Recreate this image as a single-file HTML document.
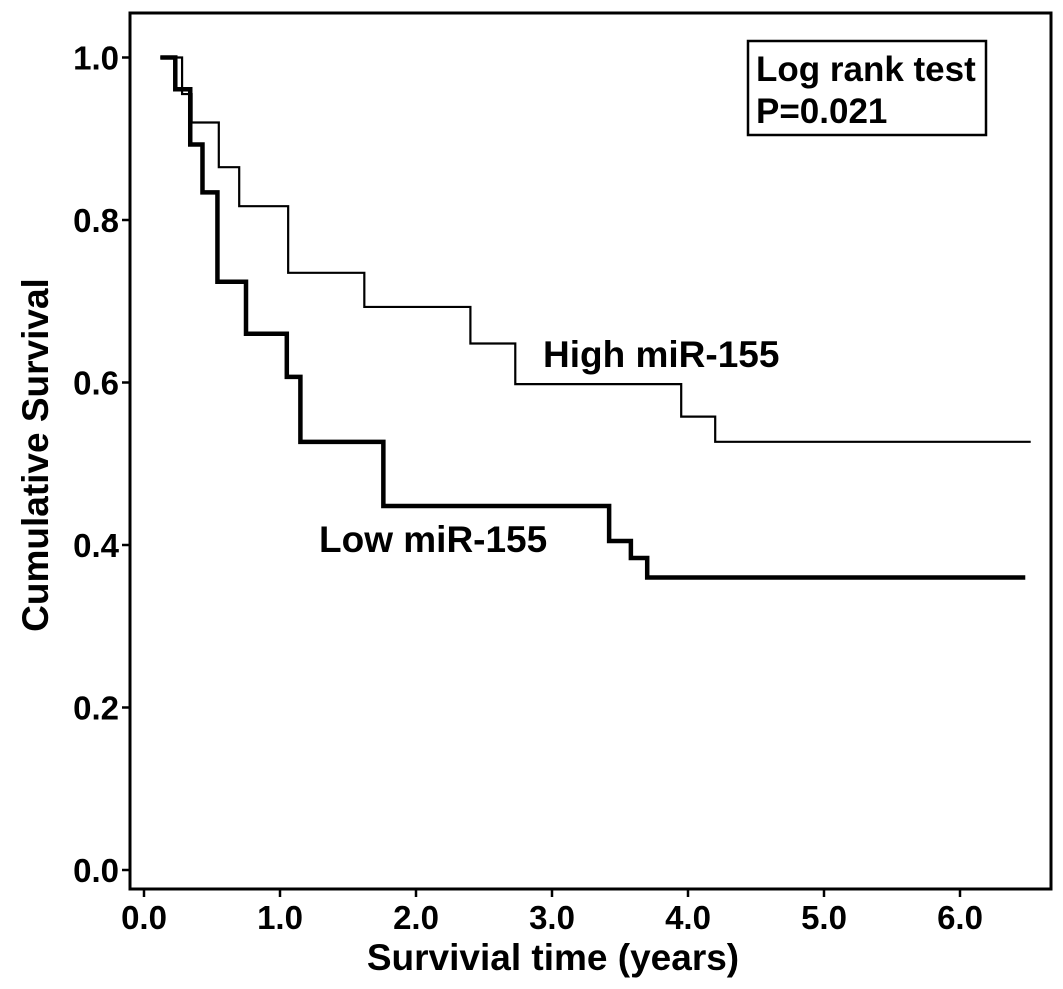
<!DOCTYPE html>
<html><head><meta charset="utf-8"><style>
body{margin:0;background:#fff}
svg text{font-family:"Liberation Sans",Arial,sans-serif;font-weight:bold;fill:#000}
</style></head><body>
<svg id="chart" width="1063" height="984" viewBox="0 0 1063 984" xmlns="http://www.w3.org/2000/svg">
<rect x="130" y="13" width="921" height="876" fill="none" stroke="#000" stroke-width="3"/>
<g id="axes"></g>
<g id="series"></g>
<g>
<rect x="748" y="41" width="238" height="94" fill="#fff" stroke="#000" stroke-width="2.5"/>
<text x="756" y="81" font-size="35">Log rank test</text>
<text x="756" y="123" font-size="35">P=0.021</text>
</g>
<text x="543" y="367" font-size="37">High miR-155</text>
<text x="319" y="552" font-size="37">Low miR-155</text>
<text x="553" y="970" font-size="37" text-anchor="middle">Survivial time (years)</text>
<text transform="translate(48,455) rotate(-90)" font-size="37" text-anchor="middle">Cumulative Survival</text>
</svg>
<script>
const xTicks=[0,1,2,3,4,5,6];
const xTickLabels=["0.0","1.0","2.0","3.0","4.0","5.0","6.0"];
const yTicks=[0,0.2,0.4,0.6,0.8,1.0];
const yTickLabels=["0.0","0.2","0.4","0.6","0.8","1.0"];
const highTimes=[0.12,0.28,0.35,0.55,0.70,1.06,1.62,2.40,2.73,3.95,4.20,6.52];
const highSurv=[1.0,0.955,0.92,0.865,0.817,0.735,0.693,0.648,0.598,0.558,0.527,0.527];
const lowTimes=[0.12,0.23,0.34,0.43,0.54,0.75,1.05,1.15,1.76,3.42,3.58,3.70,6.48];
const lowSurv=[1.0,0.961,0.893,0.834,0.724,0.660,0.607,0.527,0.448,0.405,0.384,0.360,0.360];
const NS="http://www.w3.org/2000/svg";
const sx=t=>144+136*t, sy=s=>870-812.5*s;
const axes=document.getElementById('axes');
xTicks.forEach((t,i)=>{
 const l=document.createElementNS(NS,'line');
 l.setAttribute('x1',sx(t));l.setAttribute('x2',sx(t));l.setAttribute('y1',889);l.setAttribute('y2',897);l.setAttribute('stroke','#000');l.setAttribute('stroke-width','2.5');
 
 
 axes.appendChild(l);
 const tx=document.createElementNS(NS,'text');
 tx.setAttribute('x',sx(t));tx.setAttribute('y',929);tx.setAttribute('font-size','33');tx.setAttribute('text-anchor','middle');
 tx.textContent=xTickLabels[i];
 
 
 axes.appendChild(tx);
});
yTicks.forEach((s,i)=>{
 const l=document.createElementNS(NS,'line');
 l.setAttribute('x1',122);l.setAttribute('x2',130);l.setAttribute('y1',sy(s));l.setAttribute('y2',sy(s));l.setAttribute('stroke','#000');l.setAttribute('stroke-width','2.5');
 
 
 axes.appendChild(l);
 const tx=document.createElementNS(NS,'text');
 tx.setAttribute('x',119);tx.setAttribute('y',sy(s)+12);tx.setAttribute('font-size','33');tx.setAttribute('text-anchor','end');
 tx.textContent=yTickLabels[i];
 
 
 axes.appendChild(tx);
});
function stepPath(ts,ss){
 let d='M'+sx(ts[0])+','+sy(ss[0]);
 for(let i=1;i<ts.length;i++){d+=' H'+sx(ts[i])+' V'+sy(ss[i]);}
 return d;
}
const g=document.getElementById('series');
const hp=document.createElementNS(NS,'path');
hp.setAttribute('d',stepPath(highTimes,highSurv));hp.setAttribute('fill','none');hp.setAttribute('stroke','#000');hp.setAttribute('stroke-width','2.2');


g.appendChild(hp);
const lp=document.createElementNS(NS,'path');
lp.setAttribute('d',stepPath(lowTimes,lowSurv));lp.setAttribute('fill','none');lp.setAttribute('stroke','#000');lp.setAttribute('stroke-width','4.5');


g.appendChild(lp);
</script>
</body></html>
